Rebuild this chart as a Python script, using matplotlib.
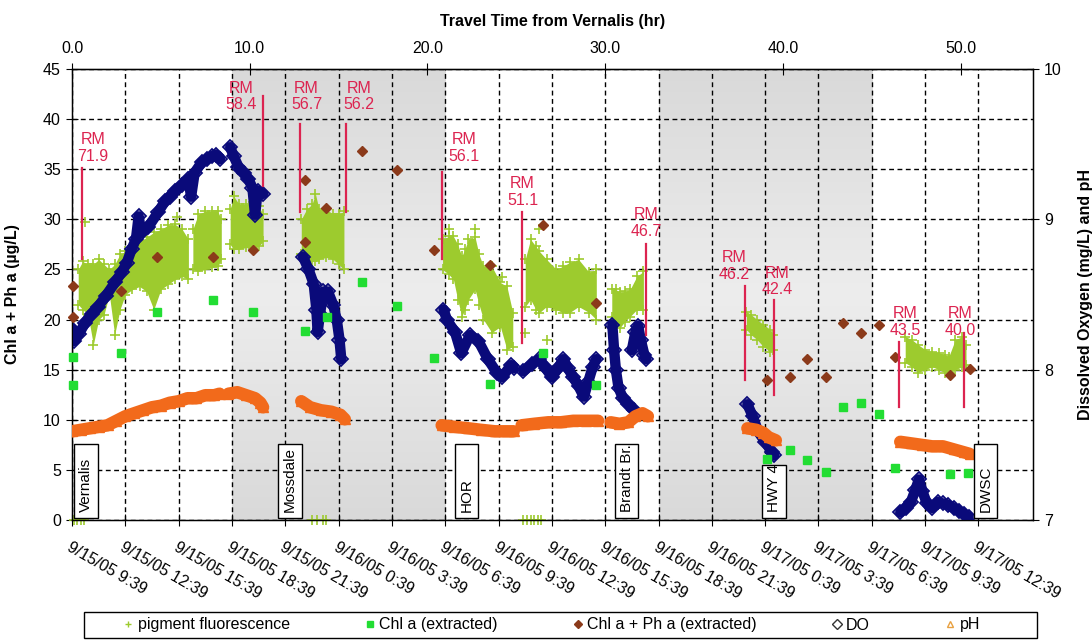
# river_run_plot.py
# Plots the boat-run results from Vernalis down to the DWSC:
# pigment fluorescence, extracted chlorophyll, DO and pH against travel time.

import numpy as np
import matplotlib
matplotlib.use("Agg")
import matplotlib.pyplot as plt
from matplotlib.lines import Line2D
from matplotlib.patches import Rectangle
from matplotlib.colors import LinearSegmentedColormap

# --- Bottom axis: clock time every 3 hours from the Vernalis start ---
date_ticks = list(range(0, 52, 3))
date_labels = ['9/15/05 9:39', '9/15/05 12:39', '9/15/05 15:39', '9/15/05 18:39',
               '9/15/05 21:39', '9/16/05 0:39', '9/16/05 3:39', '9/16/05 6:39',
               '9/16/05 9:39', '9/16/05 12:39', '9/16/05 15:39', '9/16/05 18:39',
               '9/16/05 21:39', '9/17/05 0:39', '9/17/05 3:39', '9/17/05 6:39',
               '9/17/05 9:39', '9/17/05 12:39']

# night time (hours of travel time)
night_start = [9.0, 33.0]
night_end = [21.0, 45.0]

# --- Grab samples (travel time in hr, ug/L) ---
chl_time = [0.03, 0.03, 2.76, 4.77, 7.95, 10.16, 13.1, 14.35, 16.3, 18.3, 20.37, 23.5,
            26.5, 29.5, 39.1, 40.4, 41.35, 42.4, 43.4, 44.4, 45.4, 46.3, 49.4, 50.4]
chl_a = [16.3, 13.5, 16.7, 20.8, 22.0, 20.8, 18.9, 20.3, 23.7, 21.4, 16.2, 13.6,
         16.7, 13.5, 6.1, 7.0, 6.0, 4.8, 11.3, 11.7, 10.6, 5.2, 4.6, 4.7]

chlph_time = [0.03, 0.03, 2.76, 4.77, 7.95, 10.16, 13.1, 13.1, 14.3, 16.3, 18.3, 20.37,
              23.5, 26.5, 29.5, 39.1, 40.4, 41.35, 42.4, 43.4, 44.4, 45.4, 46.3, 49.4, 50.5]
chl_ph_a = [23.3, 20.3, 22.8, 26.2, 26.2, 26.9, 33.9, 27.7, 31.1, 36.8, 34.9, 26.9,
            25.4, 29.4, 21.7, 14.0, 14.3, 16.1, 14.3, 19.7, 18.7, 19.5, 16.3, 14.5, 15.1]

# --- Continuous fluorometer record, low / high of the scatter per reading ---
fluor_time = [
    [0.35, 0.6, 0.9, 1.2, 1.5, 1.8, 2.1, 2.4, 2.7, 3.0, 3.4, 3.8, 4.2, 4.6, 5.0, 5.4, 5.8, 6.2, 6.55],
    [6.8, 7.1, 7.5, 7.9, 8.2, 8.4],
    [8.9, 9.1, 9.4, 9.8, 10.2, 10.5, 10.75],
    [12.9, 13.2, 13.5, 13.7, 13.9, 14.3, 14.7, 15.0, 15.3],
    [20.85, 21.2, 21.46, 21.7, 21.93, 22.1, 22.3, 22.68, 22.9, 23.15, 23.62, 24.1, 24.47, 24.8],
    [25.5, 25.8, 26.1, 26.3, 26.7, 27.25, 27.6, 28.0, 28.5, 29.1, 29.5],
    [30.37, 30.6, 30.84, 31.1, 31.4, 31.78, 32.15],
    [37.95, 38.2, 38.54, 38.9, 39.3, 39.45],
    [46.88, 47.25, 47.6, 48.0, 48.4, 48.77, 49.1, 49.33, 49.7, 50.1, 50.3],
]
fluor_low = [
    [21.5, 21.0, 20.5, 17.5, 20.0, 20.5, 22.5, 18.5, 21.0, 22.5, 23.0, 23.3, 22.8, 21.0, 23.0, 23.5, 24.0, 24.3, 24.0],
    [25.0, 24.8, 25.0, 25.2, 25.3, 26.0],
    [27.5, 27.0, 27.0, 27.2, 27.0, 27.3, 27.8],
    [26.5, 26.0, 25.8, 25.8, 26.0, 26.2, 26.0, 25.5, 25.0],
    [25.0, 24.5, 24.0, 22.0, 20.3, 21.0, 22.0, 23.0, 21.5, 20.0, 18.7, 19.3, 17.0, 17.3],
    [21.3, 22.0, 21.0, 20.7, 21.3, 21.0, 20.7, 20.7, 21.3, 20.7, 20.0],
    [20.3, 19.5, 19.2, 19.8, 20.3, 21.0, 21.0],
    [19.0, 18.5, 18.0, 17.3, 16.8, 17.0],
    [15.7, 15.3, 14.7, 15.0, 15.3, 15.0, 14.7, 14.8, 15.0, 15.3, 15.5],
]
fluor_high = [
    [25.0, 25.8, 25.5, 25.5, 26.0, 25.5, 25.0, 25.5, 26.5, 26.8, 27.3, 27.8, 28.2, 28.7, 29.0, 29.4, 29.5, 29.0, 28.0],
    [29.0, 30.5, 30.8, 30.8, 30.8, 30.0],
    [31.0, 32.3, 31.5, 31.5, 31.7, 31.3, 30.5],
    [30.0, 31.0, 31.5, 32.5, 31.0, 31.0, 30.5, 30.5, 30.8],
    [28.0, 28.3, 28.3, 27.5, 26.3, 27.0, 28.0, 28.2, 26.5, 25.3, 25.3, 23.7, 23.3, 20.7],
    [26.0, 28.0, 27.3, 26.8, 26.0, 25.0, 25.3, 25.7, 26.0, 24.7, 25.0],
    [23.0, 23.0, 22.7, 22.8, 23.0, 24.3, 24.8],
    [20.8, 20.5, 20.0, 19.5, 19.0, 18.5],
    [18.3, 18.0, 17.5, 17.0, 16.8, 16.7, 16.5, 16.3, 18.0, 18.3, 17.5],
]
# stray fluorometer readings off the main band (and the zero readings)
fluor_stray_time = [0.75, 5.9, 21.2, 22.7, 24.2, 25.5, 26.3, 26.7,
                    0.1, 0.3, 0.5, 0.7, 13.5, 13.8, 14.1, 14.3, 25.4, 25.6, 25.8, 26.0, 26.2, 26.4]
fluor_stray = [29.7, 30.2, 29.0, 29.0, 24.2, 18.7, 29.0, 18.0,
               0, 0, 0, 0, 0, 0, 0, 0, 0, 0, 0, 0, 0, 0]

# --- Sonde record: dissolved oxygen (mg/L) ---
do_time = [
    [0.0, 0.1, 0.4, 0.73, 1.1, 1.48, 1.9, 2.42, 2.8, 3.08, 3.35, 3.6, 3.75, 3.9, 4.3, 4.86,
     5.23, 5.5, 5.8, 6.2, 6.55, 6.7, 6.9, 7.3, 7.6, 7.86, 8.1, 8.33],
    [8.9, 9.1, 9.36, 9.65, 9.92, 10.15, 10.3, 10.45, 10.6, 10.75],
    [13.0, 13.3, 13.6, 13.75, 13.82, 13.95, 14.15, 14.4, 14.7, 14.9, 15.05, 15.15],
    [20.9, 21.1, 21.55, 21.9, 22.4, 22.87, 23.4, 23.9, 24.2, 24.7, 24.85],
    [25.4, 25.9, 26.3, 26.65, 27.0, 27.35, 27.65, 27.9, 28.2, 28.5, 28.8, 29.05, 29.3, 29.5],
    [30.4, 30.5, 30.6, 30.75, 31.0, 31.3, 31.6],
    [31.5, 31.7, 31.85, 32.0, 32.2, 32.3],
    [38.0, 38.3, 38.6, 39.0, 39.4, 39.5],
    [46.6, 46.9, 47.2, 47.45, 47.65, 47.85, 48.1, 48.4, 48.7, 49.0, 49.3, 49.6, 49.9, 50.2, 50.45],
]
do_mgl = [
    [8.27, 8.19, 8.24, 8.31, 8.37, 8.42, 8.49, 8.58, 8.65, 8.71, 8.80, 8.87, 9.02, 8.91, 8.95, 9.05,
     9.12, 9.15, 9.19, 9.23, 9.27, 9.15, 9.31, 9.38, 9.40, 9.42, 9.43, 9.40],
    [9.48, 9.42, 9.35, 9.31, 9.27, 9.21, 9.03, 9.19, 9.17, 9.17],
    [8.75, 8.67, 8.57, 8.40, 8.25, 8.37, 8.52, 8.52, 8.43, 8.33, 8.20, 8.07],
    [8.40, 8.33, 8.25, 8.11, 8.23, 8.19, 8.07, 7.98, 7.95, 8.03, 8.01],
    [7.99, 8.04, 8.07, 8.01, 7.95, 8.01, 8.07, 8.01, 7.95, 7.89, 7.82, 7.92, 8.02, 8.07],
    [8.30, 8.13, 8.00, 7.88, 7.81, 7.77, 7.73],
    [8.13, 8.25, 8.29, 8.20, 8.10, 8.07],
    [7.77, 7.69, 7.59, 7.52, 7.45, 7.43],
    [7.05, 7.08, 7.12, 7.20, 7.27, 7.19, 7.11, 7.08, 7.12, 7.11, 7.10, 7.08, 7.06, 7.04, 7.02],
]

# --- Sonde record: pH ---
ph_time = [
    [0.0, 0.5, 1.0, 1.5, 2.0, 2.5, 3.0, 3.5, 4.0, 4.5, 5.0, 5.5, 6.0, 6.5, 7.0, 7.5, 8.0, 8.3],
    [8.8, 9.3, 9.8, 10.3, 10.6, 10.75],
    [12.9, 13.4, 14.0, 14.6, 15.1, 15.35],
    [20.8, 21.5, 22.3, 23.0, 23.8, 24.5, 24.85],
    [25.3, 26.0, 26.8, 27.5, 28.2, 28.9, 29.6],
    [30.3, 30.8, 31.3, 31.7, 32.1, 32.4],
    [38.0, 38.5, 38.9, 39.2, 39.6],
    [46.6, 47.2, 47.8, 48.4, 49.0, 49.6, 50.2, 50.5],
]
ph_value = [
    [7.59, 7.60, 7.61, 7.62, 7.63, 7.66, 7.69, 7.71, 7.73, 7.75, 7.76, 7.78, 7.79, 7.81, 7.81, 7.83, 7.83, 7.84],
    [7.84, 7.85, 7.83, 7.81, 7.78, 7.75],
    [7.79, 7.75, 7.73, 7.72, 7.70, 7.67],
    [7.63, 7.62, 7.61, 7.60, 7.59, 7.59, 7.59],
    [7.63, 7.64, 7.65, 7.65, 7.66, 7.66, 7.66],
    [7.65, 7.64, 7.65, 7.69, 7.71, 7.69],
    [7.61, 7.60, 7.58, 7.55, 7.53],
    [7.52, 7.51, 7.50, 7.49, 7.49, 7.47, 7.45, 7.44],
]

# --- River mile markers ---
rm_labels = ['71.9', '58.4', '56.7', '56.2', '56.1', '51.1', '46.7', '46.2', '42.4', '43.5', '40.0']
rm_time = [0.55, 10.77, 12.83, 15.4, 20.82, 25.3, 32.3, 37.87, 39.52, 46.54, 50.16]
rm_line_top = [35.1, 42.3, 39.5, 39.5, 34.7, 30.7, 27.5, 23.3, 22.0, 17.8, 18.7]
rm_line_bottom = [26.0, 33.3, 30.7, 30.7, 26.0, 17.7, 18.5, 14.0, 12.5, 11.3, 11.3]
rm_text_x = [1.18, 9.5, 13.2, 16.15, 22.06, 25.35, 32.3, 37.24, 39.7, 46.88, 50.0]
rm_text_y = [37.1, 42.25, 42.25, 42.25, 37.1, 32.7, 29.6, 25.35, 23.8, 19.75, 19.75]

# --- Stations along the route ---
station_names = ['Vernalis', 'Mossdale', 'HOR', 'Brandt Br.', 'HWY 4', 'DWSC']
station_time = [0.78, 12.27, 22.2, 31.2, 39.5, 51.4]
station_box_top = [7.6, 7.6, 7.6, 7.6, 5.5, 7.6]

FLUOR = '#9dcb2e'
CHL = '#22dd33'
CHLPH = '#8b3a1a'
NAVY = '#0a0a7a'
ORANGE = '#f26a1b'
RED = '#dc2450'

SANS = ['Liberation Sans', 'DejaVu Sans']


def make_plot():
    plt.rcParams['font.family'] = SANS
    fig = plt.figure(figsize=(10.92, 6.41), dpi=100)
    ax = fig.add_axes([72 / 1092, 1 - 520 / 641, 961 / 1092, 451 / 641])
    ax2 = ax.twinx()

    xmax = 54.07
    ax.set_xlim(0, xmax)
    ax.set_ylim(0, 45)
    ax2.set_ylim(7, 10)

    # night shading, slightly darker toward top and bottom
    shade = LinearSegmentedColormap.from_list('shade', ['#d9d9d9', '#ededed', '#d9d9d9'])
    grad = np.linspace(0, 1, 256).reshape(-1, 1)
    for x0, x1 in zip(night_start, night_end):
        ax.imshow(grad, cmap=shade, extent=(x0, x1, 0, 45), aspect='auto',
                  origin='lower', zorder=0, interpolation='bilinear')
    ax.set_xlim(0, xmax)
    ax.set_ylim(0, 45)

    # grid
    ax.set_xticks(date_ticks)
    ax.set_yticks(np.arange(0, 46, 5))
    ax.grid(True, color='black', linestyle=(0, (3.5, 2.5)), linewidth=1.0)

    # fluorometer band
    for t, lo, hi in zip(fluor_time, fluor_low, fluor_high):
        ax.fill_between(t, lo, hi, color=FLUOR, linewidth=0, zorder=2)
        ax.plot(t, hi, ls='none', marker='+', ms=7, mew=1.2, color=FLUOR, zorder=2)
        ax.plot(t, lo, ls='none', marker='+', ms=7, mew=1.2, color=FLUOR, zorder=2)
    ax.plot(fluor_stray_time, fluor_stray, ls='none', marker='+', ms=7, mew=1.2,
            color=FLUOR, zorder=2, clip_on=False)

    # sonde DO and pH on the right-hand scale
    for t, v in zip(do_time, do_mgl):
        ax2.plot(t, v, color=NAVY, lw=7.5, solid_capstyle='round',
                 solid_joinstyle='round', zorder=2)
        ax2.plot(t, v, ls='none', marker='D', ms=7, mfc='none', mec=NAVY, mew=1.3, zorder=2)
    for t, v in zip(ph_time, ph_value):
        ax2.plot(t, v, color=ORANGE, lw=9, solid_capstyle='round',
                 solid_joinstyle='round', zorder=3)
        ax2.plot(t, v, ls='none', marker='^', ms=7, color=ORANGE, zorder=3)

    # grab samples go on top, in left-axis units
    ax2.plot(chl_time, chl_a, ls='none', marker='s', ms=6, color=CHL,
             transform=ax.transData, zorder=4, clip_on=False)
    ax2.plot(chlph_time, chl_ph_a, ls='none', marker='D', ms=5, color=CHLPH,
             transform=ax.transData, zorder=5, clip_on=False)

    # river mile markers
    for lab, x, y0, y1, tx, ty in zip(rm_labels, rm_time, rm_line_bottom, rm_line_top,
                                      rm_text_x, rm_text_y):
        ax2.plot([x, x], [y0, y1], color=RED, lw=1.6, transform=ax.transData, zorder=6)
        ax2.text(tx, ty, 'RM\n' + lab, color=RED, fontsize=11.5, ha='center', va='center',
                 linespacing=1.15, transform=ax.transData, zorder=6)

    # station boxes
    for name, x, top in zip(station_names, station_time, station_box_top):
        box = Rectangle((x - 0.67, 0.2), 1.34, top - 0.2, facecolor='white',
                        edgecolor='black', lw=1.0, transform=ax.transData, zorder=6)
        ax2.add_patch(box)
        ax2.text(x, 0.8, name, rotation=90, ha='center', va='bottom', fontsize=11,
                 transform=ax.transData, zorder=7)

    # bottom axis: clock time
    ax.set_xticklabels(date_labels, rotation=-30, ha='left', va='top',
                       rotation_mode='anchor', fontsize=11.5)
    ax.tick_params(axis='x', direction='inout', length=8, pad=10)
    ax.tick_params(axis='y', direction='inout', length=8, labelsize=11.5, pad=4)
    ax.set_ylabel('Chl a + Ph a (µg/L)', fontweight='bold', fontsize=11.5)
    ax.yaxis.set_label_coords(-0.054, 0.5)

    # right axis
    ax2.set_yticks([7, 8, 9, 10])
    ax2.tick_params(axis='y', direction='inout', length=8, labelsize=11.5, pad=4)
    ax2.set_ylabel('Dissolved Oxygen (mg/L) and pH', fontweight='bold', fontsize=11.5)
    ax2.yaxis.set_label_coords(1.047, 0.5)

    # top axis: travel time
    top = ax.secondary_xaxis('top')
    top.set_xticks([0, 10, 20, 30, 40, 50])
    top.set_xticklabels(['0.0', '10.0', '20.0', '30.0', '40.0', '50.0'])
    top.tick_params(direction='inout', length=8, labelsize=11.5, pad=5)
    top.set_xlabel('Travel Time from Vernalis (hr)', fontweight='bold', fontsize=11.5,
                   labelpad=11)

    for spine in ax.spines.values():
        spine.set_linewidth(1.0)

    # legend strip along the bottom of the figure
    handles = [
        Line2D([], [], ls='none', marker='+', ms=5, color=FLUOR, label='pigment fluorescence'),
        Line2D([], [], ls='none', marker='s', ms=5, color=CHL, label='Chl a (extracted)'),
        Line2D([], [], ls='none', marker='D', ms=4, color=CHLPH, label='Chl a + Ph a (extracted)'),
        Line2D([], [], ls='none', marker='D', ms=5, mfc='white', mec='#333333', label='DO'),
        Line2D([], [], ls='none', marker='^', ms=5, mfc='none', mec='#e8a040', label='pH'),
    ]
    fig.legend(handles=handles, ncol=5, loc='center',
               bbox_to_anchor=(550 / 1092, 16 / 641), frameon=False,
               columnspacing=4.5, handletextpad=0.1, handlelength=1.0,
               borderpad=0.3, fontsize=11.5)
    fig.patches.append(Rectangle((84 / 1092, 3 / 641), 953 / 1092, 26 / 641,
                                 transform=fig.transFigure, facecolor='none',
                                 edgecolor='black', lw=1.0))

    fig.savefig('out.png', dpi=100)


if __name__ == '__main__':
    make_plot()
